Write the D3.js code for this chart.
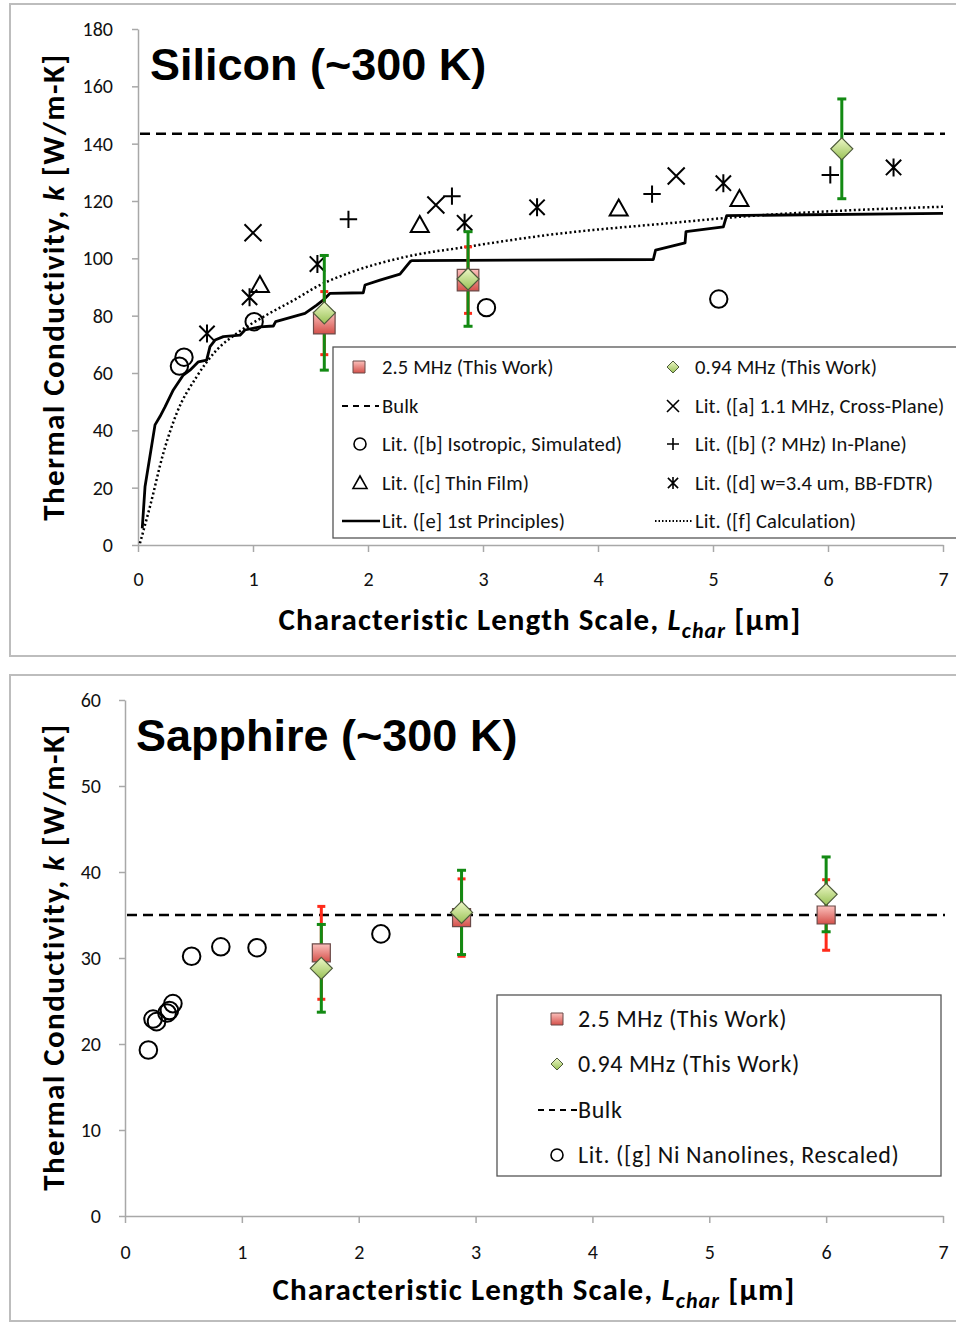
<!DOCTYPE html>
<html>
<head>
<meta charset="utf-8">
<script src="https://cdn.jsdelivr.net/npm/d3@7"></script>
<style>
  body { margin: 0; background: #fff; }
  svg text { font-family: Carlito, Lato, sans-serif; }
</style>
</head>
<body>
<svg id="chart" width="956" height="1323"></svg>
<script>
// ---------- Silicon (top) ----------
var siBulk = 143.5;
// this work, k with +/- error
var si25 = [{ x: 1.62, k: 77.4, e: 11 }, { x: 2.87, k: 92.4, e: 11.6 }];
var si094 = [{ x: 1.62, k: 81, e: 20 }, { x: 2.87, k: 92.8, e: 16.5 }, { x: 6.12, k: 138.2, e: 17.4 }];
// literature points [x, k]
var siIso = [[0.36, 62.4], [0.40, 65.5], [1.01, 77.9], [3.03, 82.8], [5.05, 85.8]];
var siCross = [[1.0, 108.9], [2.59, 118.6], [4.68, 128.7]];
var siInPlane = [[1.83, 113.6], [2.73, 121.7], [4.47, 122.4], [6.02, 129.1]];
var siThin = [[1.06, 90.7], [2.45, 111.6], [4.18, 117.4], [5.23, 120.7]];
var siFdtr = [[0.60, 73.8], [0.97, 86.4], [1.56, 98], [2.84, 112.4], [3.47, 117.8], [5.09, 126.2], [6.57, 131.7]];
var siFirst = [[0.037, 5.8], [0.061, 20.3], [0.148, 41.9], [0.191, 44.8], [0.235, 48.2], [0.307, 54.1],
  [0.394, 59.3], [0.452, 61.0], [0.525, 63.9], [0.597, 64.5], [0.626, 69.2], [0.67, 71.5], [0.742, 72.7],
  [0.887, 73.2], [0.93, 75], [1.061, 76.1], [1.177, 76.4], [1.197, 77.9], [1.452, 80.8], [1.554, 83.7],
  [1.612, 85.5], [1.67, 87.8], [1.959, 88], [1.974, 90.7], [2.104, 92.4], [2.278, 94.5], [2.365, 98.8],
  [2.38, 99.2], [4.481, 99.6], [4.501, 102.9], [4.757, 105.4], [4.765, 109.3], [5.09, 111.0], [5.119, 114.9],
  [7.0, 115.7]];
var siCalc = [[0.017, 0.6], [0.104, 13.4], [0.22, 32], [0.336, 45.9], [0.51, 58.7], [0.684, 68], [0.858, 73.8],
  [1.09, 79.6], [1.38, 86], [1.554, 90.1], [1.843, 95], [2.336, 100.6], [2.858, 104], [3.554, 108.1],
  [4.655, 112.4], [5.235, 114.5], [6.104, 116.6], [7.0, 118]];

// ---------- Sapphire (bottom) ----------
var saBulk = 35;
var sa25 = [{ x: 1.68, k: 30.6, e: 5.4 }, { x: 2.88, k: 34.7, e: 4.5 }, { x: 6.0, k: 35, e: 4.1 }];
var sa094 = [{ x: 1.68, k: 28.8, e: 5.1 }, { x: 2.88, k: 35.3, e: 4.9 }, { x: 6.0, k: 37.4, e: 4.35 }];
var saNi = [[0.2, 19.3], [0.24, 22.9], [0.27, 22.6], [0.36, 23.6], [0.38, 23.9], [0.41, 24.7],
  [0.57, 30.2], [0.82, 31.3], [1.13, 31.2], [2.19, 32.8]];

var xTicks = d3.range(0, 8);
var siTicks = d3.range(0, 181, 20);
var saTicks = d3.range(0, 61, 10);

var svg = d3.select("#chart");
var defs = svg.append("defs");

function grad(id, c1, c2) {
  var g = defs.append("linearGradient").attr("id", id)
    .attr("x1", 0).attr("y1", 0).attr("x2", 0).attr("y2", 1);
  g.append("stop").attr("offset", "0%").attr("stop-color", c1);
  g.append("stop").attr("offset", "100%").attr("stop-color", c2);
}
grad("redFill", "#fbc0bc", "#d4504a");
grad("greenFill", "#eef8c8", "#98c155");

// marker outlines, s = half size
function shape(type, s) {
  switch (type) {
    case "square": return "M" + -s + "," + -s + "h" + 2 * s + "v" + 2 * s + "h" + -2 * s + "Z";
    case "diamond": return "M0," + -s + "L" + s + ",0L0," + s + "L" + -s + ",0Z";
    case "circle": return "M" + s + ",0A" + s + "," + s + " 0 1,1 " + -s + ",0A" + s + "," + s + " 0 1,1 " + s + ",0Z";
    case "cross": return "M" + -s + "," + -s + "L" + s + "," + s + "M" + s + "," + -s + "L" + -s + "," + s;
    case "plus": return "M" + -s + ",0H" + s + "M0," + -s + "V" + s;
    case "tri": return "M0," + -s + "L" + s + "," + s * 0.78 + "L" + -s + "," + s * 0.78 + "Z";
    case "star": return "M" + -s * 0.85 + "," + -s * 0.85 + "L" + s * 0.85 + "," + s * 0.85 + "M" + s * 0.85 + "," + -s * 0.85 + "L" + -s * 0.85 + "," + s * 0.85 + "M0," + -s + "V" + s;
  }
}

function markStyle(sel, type) {
  if (type === "square") sel.attr("fill", "url(#redFill)").attr("stroke", "#6b4a48").attr("stroke-width", 1.2);
  else if (type === "diamond") sel.attr("fill", "url(#greenFill)").attr("stroke", "#4d5a3a").attr("stroke-width", 1.2);
  else sel.attr("fill", "none").attr("stroke", "#000").attr("stroke-width", 2);
}

function points(data, x, y, type, s) {
  svg.append("g").selectAll("path").data(data).join("path")
    .attr("transform", d => "translate(" + x(d[0]) + "," + y(d[1]) + ")")
    .attr("d", shape(type, s))
    .call(markStyle, type);
}

function work(data, x, y, type, s) {
  points(data.map(d => [d.x, d.k]), x, y, type, s);
}

function errBars(data, x, y, color, cap) {
  var g = svg.append("g").attr("stroke", color).attr("stroke-width", 3);
  g.selectAll(".v").data(data).join("line")
    .attr("x1", d => x(d.x)).attr("x2", d => x(d.x))
    .attr("y1", d => y(d.k - d.e)).attr("y2", d => y(d.k + d.e));
  g.selectAll(".t").data(data).join("line")
    .attr("x1", d => x(d.x) - cap).attr("x2", d => x(d.x) + cap)
    .attr("y1", d => y(d.k + d.e)).attr("y2", d => y(d.k + d.e));
  g.selectAll(".b").data(data).join("line")
    .attr("x1", d => x(d.x) - cap).attr("x2", d => x(d.x) + cap)
    .attr("y1", d => y(d.k - d.e)).attr("y2", d => y(d.k - d.e));
}

function bulkLine(x, y, k) {
  svg.append("line")
    .attr("x1", x(0) + 2).attr("x2", x(7) + 2)
    .attr("y1", y(k)).attr("y2", y(k))
    .attr("stroke", "#000").attr("stroke-width", 2.5).attr("stroke-dasharray", "10,6");
}

function axes(x, y, yTicks, xPad, yPad) {
  var gx = svg.append("g")
    .attr("transform", "translate(0," + y.range()[0] + ")")
    .call(d3.axisBottom(x).tickValues(xTicks).tickSize(7).tickSizeOuter(0).tickPadding(xPad).tickFormat(d3.format("d")));
  var gy = svg.append("g")
    .attr("transform", "translate(" + x.range()[0] + ",0)")
    .call(d3.axisLeft(y).tickValues(yTicks).tickSize(6).tickSizeOuter(0).tickPadding(yPad));
  [gx, gy].forEach(g => {
    g.attr("font-size", 20);
    g.select(".domain").attr("stroke", "#a8a8a8").attr("stroke-width", 1.5);
    g.selectAll(".tick line").attr("stroke", "#a8a8a8").attr("stroke-width", 1.5);
    g.selectAll(".tick text").attr("fill", "#111");
  });
}

function titles(title, tx, ty, yMid, xMid, xBase) {
  svg.append("text")
    .attr("x", tx).attr("y", ty)
    .style("font-family", "'Liberation Sans', Arial, sans-serif")
    .attr("font-weight", "bold").attr("font-size", 45)
    .text(title);

  var yt = svg.append("text")
    .attr("transform", "translate(64," + yMid + ") rotate(-90)")
    .attr("text-anchor", "middle").attr("font-weight", "bold").attr("font-size", 31)
    .attr("letter-spacing", 1.4);
  yt.append("tspan").text("Thermal Conductivity, ");
  yt.append("tspan").attr("font-style", "italic").text("k");
  yt.append("tspan").text(" [W/m-K]");

  var xt = svg.append("text")
    .attr("x", xMid).attr("y", xBase)
    .attr("text-anchor", "middle").attr("font-weight", "bold").attr("font-size", 31)
    .attr("letter-spacing", 1.1);
  xt.append("tspan").text("Characteristic Length Scale, ");
  xt.append("tspan").attr("font-style", "italic").text("L");
  xt.append("tspan").attr("font-style", "italic").attr("font-size", 22).attr("dy", 8).text("char");
  xt.append("tspan").attr("dy", -8).text(" [\u03bcm]");
}

function legend(items, fs, ls) {
  var g = svg.append("g").attr("font-size", fs).attr("letter-spacing", ls);
  items.forEach(it => {
    if (it.line) {
      g.append("line").attr("x1", it.lx[0]).attr("x2", it.lx[1]).attr("y1", it.y).attr("y2", it.y)
        .attr("stroke", "#000").attr("stroke-width", it.line === "solid" ? 2.5 : 2)
        .attr("stroke-dasharray", it.line === "dash" ? "6,5" : it.line === "dot" ? "1.5,2" : null);
    } else {
      g.append("path").attr("transform", "translate(" + it.mx + "," + it.y + ")")
        .attr("d", shape(it.type, it.s || 6)).call(markStyle, it.type)
        .attr("stroke-width", it.type === "square" || it.type === "diamond" ? 1 : 1.6);
    }
    g.append("text").attr("x", it.tx).attr("y", it.y).attr("dy", "0.35em").attr("fill", "#111").text(it.label);
  });
}

// ---------- panel frames ----------
svg.append("rect").attr("x", 10).attr("y", 4).attr("width", 960).attr("height", 652)
  .attr("fill", "#fff").attr("stroke", "#bdbdbd").attr("stroke-width", 2);
svg.append("rect").attr("x", 10).attr("y", 675).attr("width", 960).attr("height", 646)
  .attr("fill", "#fff").attr("stroke", "#bdbdbd").attr("stroke-width", 2);

// ---------- Silicon chart ----------
var x1 = d3.scaleLinear().domain([0, 7]).range([138, 943]);
var y1 = d3.scaleLinear().domain([0, 180]).range([545, 29]);

axes(x1, y1, siTicks, 20, 19);
bulkLine(x1, y1, siBulk);

svg.append("path").datum(siCalc)
  .attr("d", d3.line().curve(d3.curveMonotoneX).x(d => x1(d[0])).y(d => y1(d[1])))
  .attr("fill", "none").attr("stroke", "#000").attr("stroke-width", 2.5)
  .attr("stroke-dasharray", "2,2.6");
svg.append("path").datum(siFirst)
  .attr("d", d3.line().x(d => x1(d[0])).y(d => y1(d[1])))
  .attr("fill", "none").attr("stroke", "#000").attr("stroke-width", 2.8).attr("stroke-linejoin", "round");

points(siIso, x1, y1, "circle", 8.7);
points(siCross, x1, y1, "cross", 8.5);
points(siInPlane, x1, y1, "plus", 8.7);
points(siThin, x1, y1, "tri", 9);
points(siFdtr, x1, y1, "star", 9);

errBars(si25, x1, y1, "#ff2a1a", 4);
errBars(si094, x1, y1, "#138a13", 4.5);
work(si25, x1, y1, "square", 10.8);
work(si094, x1, y1, "diamond", 11);

svg.append("rect").attr("x", 333).attr("y", 347).attr("width", 640).attr("height", 191)
  .attr("fill", "#fff").attr("stroke", "#555").attr("stroke-width", 1.3);

legend([
  { type: "square", mx: 359, tx: 382, y: 367, label: "2.5 MHz (This Work)" },
  { line: "dash", lx: [342, 379], tx: 382, y: 406, label: "Bulk" },
  { type: "circle", mx: 360, tx: 382, y: 444, label: "Lit. ([b] Isotropic, Simulated)" },
  { type: "tri", mx: 360, s: 7, tx: 382, y: 483, label: "Lit. ([c] Thin Film)" },
  { line: "solid", lx: [342, 380], tx: 382, y: 521, label: "Lit. ([e] 1st Principles)" },
  { type: "diamond", mx: 673, tx: 695, y: 367, label: "0.94 MHz (This Work)" },
  { type: "cross", mx: 673, tx: 695, y: 406, label: "Lit. ([a] 1.1 MHz, Cross-Plane)" },
  { type: "plus", mx: 673, tx: 695, y: 444, label: "Lit. ([b] (? MHz) In-Plane)" },
  { type: "star", mx: 673, tx: 695, y: 483, label: "Lit. ([d] w=3.4 um, BB-FDTR)" },
  { line: "dot", lx: [655, 692], tx: 695, y: 521, label: "Lit. ([f] Calculation)" }
], 20.6, 0.1);

titles("Silicon (~300 K)", 150, 80, 287, 540, 630);

// ---------- Sapphire chart ----------
var x2 = d3.scaleLinear().domain([0, 7]).range([125, 943]);
var y2 = d3.scaleLinear().domain([0, 60]).range([1216, 700]);

axes(x2, y2, saTicks, 22, 18);
bulkLine(x2, y2, saBulk);

points(saNi, x2, y2, "circle", 8.8);
errBars(sa25, x2, y2, "#ff2a1a", 4);
errBars(sa094, x2, y2, "#138a13", 4.5);
work(sa25, x2, y2, "square", 9);
work(sa094, x2, y2, "diamond", 11);

svg.append("rect").attr("x", 497).attr("y", 995).attr("width", 444).attr("height", 181)
  .attr("fill", "#fff").attr("stroke", "#555").attr("stroke-width", 1.3);

legend([
  { type: "square", mx: 557, tx: 578, y: 1019, label: "2.5 MHz (This Work)" },
  { type: "diamond", mx: 557, tx: 578, y: 1064, label: "0.94 MHz (This Work)" },
  { line: "dash", lx: [538, 577], tx: 578, y: 1110, label: "Bulk" },
  { type: "circle", mx: 557, tx: 578, y: 1155, label: "Lit. ([g] Ni Nanolines, Rescaled)" }
], 24, 0.6);

titles("Sapphire (~300 K)", 136, 751, 957, 534, 1300);
</script>
</body>
</html>
